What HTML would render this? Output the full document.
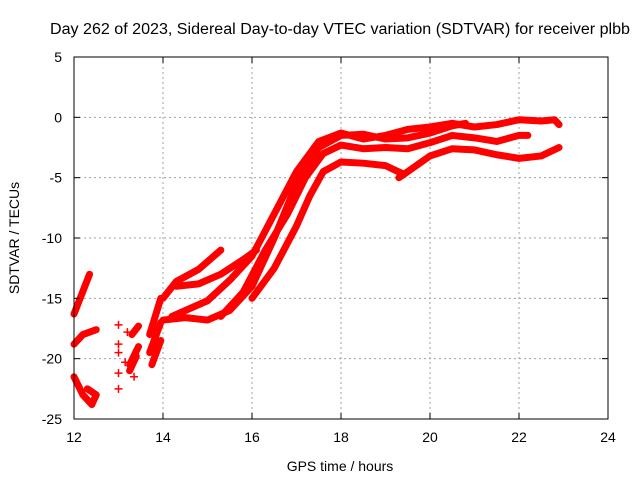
<!DOCTYPE html>
<html><head><meta charset="utf-8"><style>
body{margin:0;background:#fff}
svg{font-family:"Liberation Sans",sans-serif;font-size:14px}
</style></head><body>
<svg width="640" height="480">
<rect width="640" height="480" fill="#fff"/>
<text x="340" y="34" text-anchor="middle" font-size="15.5" textLength="580" lengthAdjust="spacingAndGlyphs">Day 262 of 2023, Sidereal Day-to-day VTEC variation (SDTVAR) for receiver plbb</text>
<text x="340" y="471" text-anchor="middle">GPS time / hours</text>
<text transform="translate(19,238) rotate(-90)" text-anchor="middle">SDTVAR / TECUs</text>
<g id="grid"></g><g id="marks"></g><g id="axes"></g>
</svg>
<script>
const xTicks=[12,14,16,18,20,22,24];
const yTicks=[5,0,-5,-10,-15,-20,-25];
const tracks=[
[[14.0,-15],[14.3,-13.6],[14.8,-12.6],[15.3,-11]],
[[14.3,-14],[14.8,-13.8],[15.3,-13],[15.8,-11.8],[16.1,-11]],
[[14.0,-16.8],[14.5,-16.6],[15.0,-16.8],[15.5,-16],[16,-14],[16.5,-10],[17,-5.5],[17.5,-2.5],[18,-1.5],[18.5,-1.4],[19,-1.8],[19.5,-1.7],[20,-1.3],[20.5,-0.7],[20.8,-0.5]],
[[14.2,-16.5],[15,-15.2],[15.5,-13.5],[16,-11.5],[16.5,-8],[17,-4.5],[17.5,-2],[18,-1.3],[18.5,-1.8],[19,-1.5],[19.5,-1],[20,-0.8],[20.5,-0.5],[21,-0.8],[21.5,-0.6],[22,-0.2],[22.5,-0.3],[22.8,-0.2],[22.9,-0.6]],
[[15.3,-16.5],[15.8,-14.5],[16.3,-11],[16.8,-8],[17.2,-5],[17.6,-3],[18,-2.3],[18.5,-2.6],[19,-2.5],[19.5,-2.6],[20,-2.1],[20.5,-1.5],[21,-1.7],[21.5,-2],[22,-1.5],[22.2,-1.5]],
[[16,-15],[16.5,-12.5],[17,-9],[17.3,-6.5],[17.6,-4.5],[18,-3.7],[18.5,-3.8],[19,-4],[19.4,-4.7]],
[[19.3,-5],[19.5,-4.5],[20,-3.2],[20.5,-2.6],[21,-2.7],[21.5,-3.1],[22,-3.4],[22.5,-3.2],[22.9,-2.5]],
[[12.0,-16.3],[12.35,-13]],
[[12.0,-18.8],[12.2,-18],[12.5,-17.6]],
[[12.0,-21.5],[12.2,-23],[12.4,-23.8],[12.5,-23],[12.3,-22.5]],
[[13.7,-18],[13.95,-15]],[[13.7,-19.5],[13.95,-17]],[[13.75,-20.5],[13.95,-18.5]],
[[13.3,-18],[13.45,-17.3]],[[13.25,-20.5],[13.45,-19]],[[13.25,-21],[13.4,-19.8]]
];
const pointsT=[13.0,13.0,13.0,13.0,13.0,13.2,13.35,13.15];
const pointsV=[-17.2,-18.8,-19.5,-21.2,-22.5,-17.8,-21.5,-20.3];
const X=t=>74+(t-12)*(534/12), Y=v=>57+(5-v)*(362/30);
const NS="http://www.w3.org/2000/svg";
function mk(tag,a,p){const e=document.createElementNS(NS,tag);for(const k in a)e.setAttribute(k,a[k]);document.getElementById(p).appendChild(e);return e;}
xTicks.forEach(t=>{
 if(t>12&&t<24){const g=mk('line',{x1:X(t),x2:X(t),y1:57,y2:419,stroke:'#a0a0a0','stroke-dasharray':'2,3'},'grid');
 
 }
 const l=mk('text',{x:X(t),y:442,'text-anchor':'middle'},'axes');l.textContent=t;
 
 
 mk('line',{x1:X(t),x2:X(t),y1:419,y2:413,stroke:'#000'},'axes');
 mk('line',{x1:X(t),x2:X(t),y1:57,y2:63,stroke:'#000'},'axes');
});
yTicks.forEach(v=>{
 if(v<5&&v>-25){const g=mk('line',{x1:74,x2:608,y1:Y(v),y2:Y(v),stroke:'#a0a0a0','stroke-dasharray':'2,3'},'grid');
 
 }
 const l=mk('text',{x:62,y:Y(v)+5,'text-anchor':'end'},'axes');l.textContent=v;
 
 
 mk('line',{x1:74,x2:80,y1:Y(v),y2:Y(v),stroke:'#000'},'axes');
 mk('line',{x1:602,x2:608,y1:Y(v),y2:Y(v),stroke:'#000'},'axes');
});
const fr=mk('rect',{x:74,y:57,width:534,height:362,fill:'none',stroke:'#000'},'axes');


tracks.forEach(tr=>{
 const p=mk('polyline',{points:tr.map(d=>X(d[0])+','+Y(d[1])).join(' '),fill:'none',stroke:'#ff0000','stroke-width':7,'stroke-linejoin':'round','stroke-linecap':'round'},'marks');
 
 
});
pointsT.forEach((t,i)=>{
 const x=X(t),y=Y(pointsV[i]);
 const p=mk('path',{d:`M${x-4},${y}H${x+4}M${x},${y-4}V${y+4}`,stroke:'#ff0000','stroke-width':1.5},'marks');
 
 
});
</script>
</body></html>
